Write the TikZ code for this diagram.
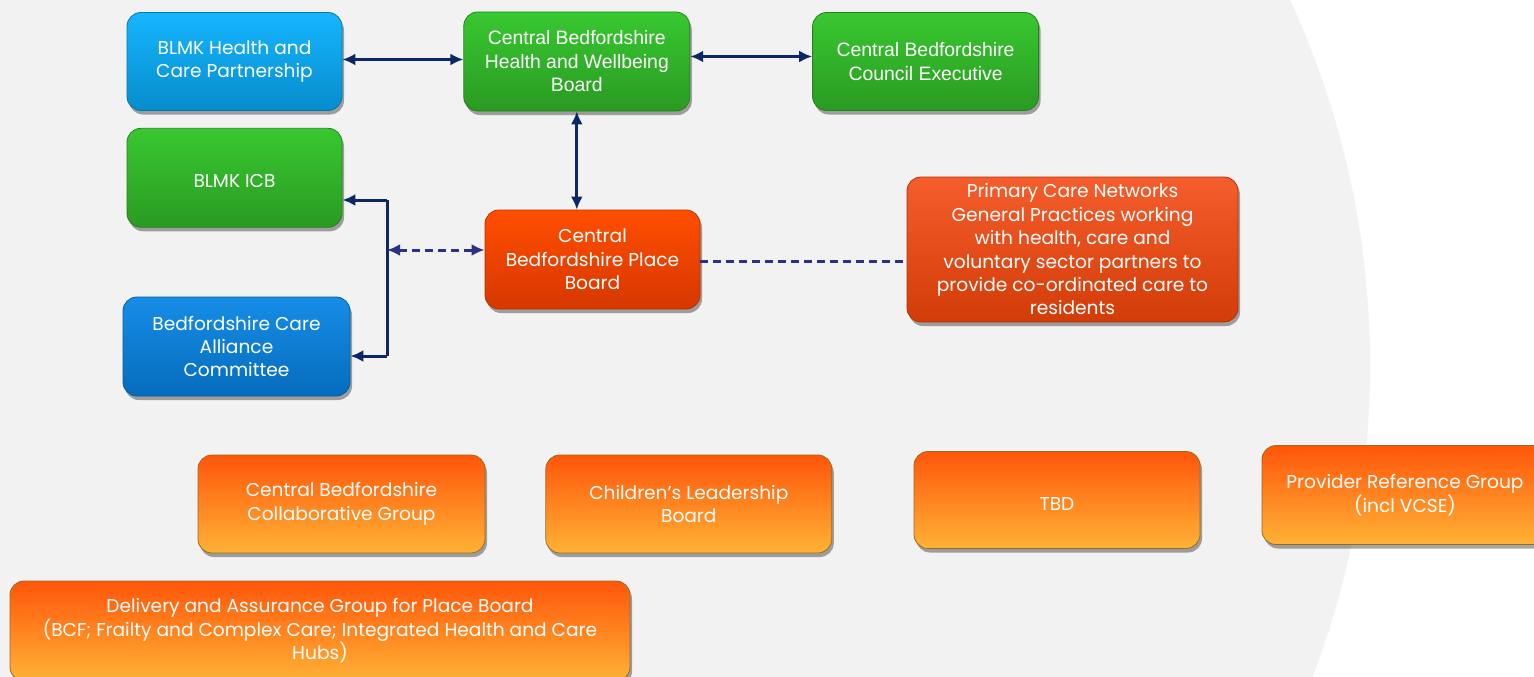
\documentclass[tikz,border=0pt]{standalone}
\usepackage{fontspec}
\setmainfont{Liberation Sans}
\newfontfamily\gothic{Poppins}
\usetikzlibrary{arrows.meta,shadows,positioning}

\definecolor{bgGrey}{HTML}{F2F2F2}
\definecolor{linkNavy}{HTML}{0C2766}
\definecolor{dashNavy}{HTML}{2B3183}
\definecolor{skyTop}{HTML}{16B6FF}
\definecolor{skyBot}{HTML}{078CCC}
\definecolor{seaTop}{HTML}{168DE6}
\definecolor{seaBot}{HTML}{066CBC}
\definecolor{leafTop}{HTML}{38C830}
\definecolor{leafBot}{HTML}{2A9A22}
\definecolor{fireTop}{HTML}{FF4E00}
\definecolor{fireBot}{HTML}{D63800}
\definecolor{rustTop}{HTML}{F55E2C}
\definecolor{rustBot}{HTML}{D23C08}
\definecolor{ambTop}{HTML}{FF560A}
\definecolor{ambBot}{HTML}{FFB236}

\begin{document}
\begin{tikzpicture}[x=1pt,y=-1pt,>={Latex[length=13pt,width=12pt]},
        box/.style={rounded corners=14pt,text=white,align=center,inner sep=0pt,
            line width=0.8pt,
            drop shadow={shadow xshift=2pt,shadow yshift=-4pt,opacity=.35,fill=black}},
        arial/.style={font=\fontsize{19.4}{23.5}\selectfont},
        gothic/.style={font=\gothic\fontsize{18.6}{23.4}\selectfont,
            execute at begin node={\rule{0pt}{20pt}}},
        sky node/.style={box,gothic,top color=skyTop,bottom color=skyBot,draw=skyBot!85!black},
        sea node/.style={box,gothic,top color=seaTop,bottom color=seaBot,draw=seaBot!85!black},
        leaf node/.style={box,top color=leafTop,bottom color=leafBot,draw=leafBot!85!black},
        fire node/.style={box,gothic,top color=fireTop,bottom color=fireBot,draw=fireBot!85!black},
        rust node/.style={box,gothic,top color=rustTop,bottom color=rustBot,draw=rustBot!85!black},
        amber node/.style={box,gothic,top color=ambTop,bottom color=ambBot,draw=ambBot!60!black},
        link/.style={linkNavy,line width=3pt},
        dash link/.style={dashNavy,line width=3pt,dash pattern=on 8pt off 5pt}]

        \useasboundingbox (0,0) rectangle (1534,677);
        \fill[white] (0,0) rectangle (1534,677);
        \begin{scope}
            \clip (0,0) rectangle (1534,677);
            \fill[bgGrey] (500,365) circle (870pt);
        \end{scope}

        % top row
        \node[sky node,minimum width=215pt,minimum height=98pt] (hcp) at (234.5,61.5) {BLMK Health and\\Care Partnership};
        \node[leaf node,arial,minimum width=226pt,minimum height=99pt] (hwb) [right=121pt of hcp] {Central Bedfordshire\\Health and Wellbeing\\Board};
        \node[leaf node,arial,minimum width=226pt,minimum height=98pt] (cbc) [right=122pt of hwb] {Central Bedfordshire\\Council Executive};

        % left column
        \node[leaf node,gothic,minimum width=215pt,minimum height=99pt] (icb) [below=17pt of hcp] {BLMK ICB};
        \node[sea node,minimum width=227pt,minimum height=99pt] (bca) at (236.5,346.5) {Bedfordshire Care\\Alliance\\Committee};

        % place
        \node[fire node,minimum width=215pt,minimum height=99pt] (place) at (592.5,259.5) {Central\\Bedfordshire Place\\Board};
        \node[rust node,minimum width=331pt,minimum height=145pt] (pcn) at (1072.5,249.5) {Primary Care Networks\\General Practices working\\with health, care and\\voluntary sector partners to\\provide co-ordinated care to\\residents};

        % groups
        \node[amber node,minimum width=287pt,minimum height=98pt] (collab) at (341.5,504) {Central Bedfordshire\\Collaborative Group};
        \node[amber node,minimum width=286pt,minimum height=98pt] (child) [right=60pt of collab] {Children’s Leadership\\Board};
        \node[amber node,minimum width=286pt,minimum height=97pt] (tbd) at (1057,500) {TBD};
        \node[amber node,minimum width=286pt,minimum height=99pt] (prov) at (1405,495) {Provider Reference Group\\(incl VCSE)};
        \node[amber node,minimum width=620pt,minimum height=100pt] (dag) at (320,631) {Delivery and Assurance Group for Place Board\\(BCF; Frailty and Complex Care; Integrated Health and Care\\Hubs)};

        % links
        \coordinate (bt) at (387,200);
        \coordinate (bb) at (387,356);
        \coordinate (bm) at (387,250);
        \draw[link,<->] ([yshift=2pt]hcp.east) -- ([yshift=2pt]hcp.east -| hwb.west);
        \draw[link,<->] ([yshift=5pt]hwb.east) -- ([yshift=5pt]hwb.east -| cbc.west);
        \draw[link,<->] (hwb.south) -- (hwb.south |- place.north);
        \draw[link] (bt) -- (bb);
        \draw[link,->] (bt) -- (bt -| icb.east);
        \draw[link,->] (bb) -- (bb -| bca.east);
        \draw[dash link,<->] (bm) -- (bm -| place.west);
        \draw[dash link] ([yshift=-1.5pt]place.east) -- ([yshift=-1.5pt]place.east -| pcn.west);

\end{tikzpicture}
\end{document}
